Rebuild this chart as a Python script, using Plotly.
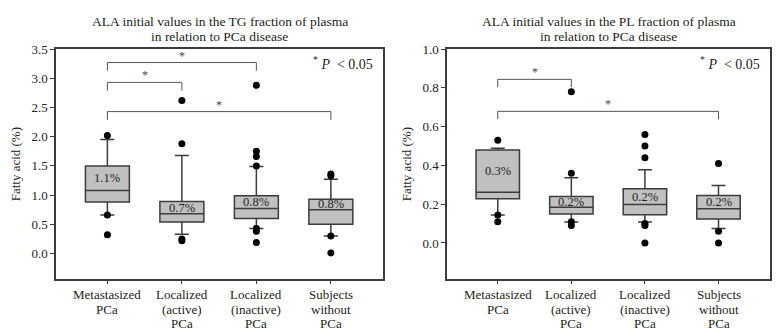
import plotly.graph_objects as go

# ---------------- data ----------------
category_lines = [["Metastasized", "PCa"], ["Localized", "(active)", "PCa"],
                  ["Localized", "(inactive)", "PCa"], ["Subjects", "without", "PCa"]]
categories = [" ".join(c) for c in category_lines]

# TG fraction
tg_q1 = [0.88, 0.54, 0.60, 0.50]
tg_median = [1.08, 0.68, 0.77, 0.75]
tg_q3 = [1.50, 0.89, 0.99, 0.93]
tg_lower = [0.66, 0.33, 0.43, 0.30]
tg_upper = [1.95, 1.68, 1.49, 1.27]
tg_outliers = [[2.02, 0.66, 0.32],
               [2.62, 1.88, 0.25, 0.22],
               [2.88, 1.75, 1.66, 1.50, 0.43, 0.38, 0.19],
               [1.36, 1.33, 0.30, 0.01]]
tg_labels = ["1.1%", "0.7%", "0.8%", "0.8%"]
tg_brackets = [(0, 2, 3.27), (0, 1, 2.93), (0, 3, 2.43)]

# PL fraction
pl_q1 = [0.228, 0.150, 0.145, 0.124]
pl_median = [0.262, 0.184, 0.198, 0.177]
pl_q3 = [0.480, 0.240, 0.280, 0.245]
pl_lower = [0.144, 0.108, 0.108, 0.074]
pl_upper = [0.488, 0.336, 0.378, 0.296]
pl_outliers = [[0.53, 0.144, 0.11],
               [0.78, 0.36, 0.11, 0.09],
               [0.56, 0.50, 0.44, 0.10, 0.09, 0.0],
               [0.41, 0.06, 0.0]]
pl_labels = ["0.3%", "0.2%", "0.2%", "0.2%"]
pl_brackets = [(0, 1, 0.844), (0, 3, 0.679)]

titles = [["ALA initial values in the TG fraction of plasma", "in relation to PCa disease"],
          ["ALA initial values in the PL fraction of plasma", "in relation to PCa disease"]]

# ---------------- style ----------------
FONT = "Liberation Serif"
TXT = "#231f20"
LINE = "#3c3c3c"
FILL = "#c0c0c0"
W, H = 778, 336
NB = "\u00a0"

fig = go.Figure()
annotations = []

panels = [
    dict(q1=tg_q1, med=tg_median, q3=tg_q3, lo=tg_lower, hi=tg_upper, out=tg_outliers,
         labels=tg_labels, brackets=tg_brackets, drop=0.14, xa="x", ya="y",
         yrange=[-0.44, 3.5], dtick=0.5, dom=[56 / W, 383 / W], title=titles[0]),
    dict(q1=pl_q1, med=pl_median, q3=pl_q3, lo=pl_lower, hi=pl_upper, out=pl_outliers,
         labels=pl_labels, brackets=pl_brackets, drop=0.04, xa="x2", ya="y2",
         yrange=[-0.187, 1.0], dtick=0.2, dom=[447 / W, 770 / W], title=titles[1]),
]

ydom = [1 - 278 / H, 1 - 43 / H]

for k, p in enumerate(panels):
    # boxes
    fig.add_trace(go.Box(
        x=categories, q1=p["q1"], median=p["med"], q3=p["q3"],
        lowerfence=p["lo"], upperfence=p["hi"], boxpoints=False,
        width=0.59, whiskerwidth=0.32, fillcolor=FILL,
        line=dict(color=LINE, width=1.5), xaxis=p["xa"], yaxis=p["ya"],
        showlegend=False, hoverinfo="skip"))
    # outliers
    ox, oy = [], []
    for c, vals in zip(categories, p["out"]):
        ox += [c] * len(vals)
        oy += vals
    fig.add_trace(go.Scatter(x=ox, y=oy, mode="markers",
                             marker=dict(color="black", size=7),
                             xaxis=p["xa"], yaxis=p["ya"], showlegend=False))
    # significance brackets
    for (i, j, h) in p["brackets"]:
        fig.add_trace(go.Scatter(
            x=[categories[i], categories[i], categories[j], categories[j]],
            y=[h - p["drop"], h, h, h - p["drop"]], mode="lines",
            line=dict(color="#555555", width=1), xaxis=p["xa"], yaxis=p["ya"],
            showlegend=False, hoverinfo="skip"))
        annotations.append(dict(x=(i + j) / 2, y=h, xref=p["xa"], yref=p["ya"],
                                text="*", showarrow=False, yanchor="middle", yshift=7,
                                font=dict(family=FONT, size=12, color="#444444")))
    # mean labels
    for idx, (lab, m, q) in enumerate(zip(p["labels"], p["med"], p["q3"])):
        annotations.append(dict(x=idx, y=(m + q) / 2, xref=p["xa"], yref=p["ya"],
                                text=lab, showarrow=False,
                                font=dict(family=FONT, size=12.5, color=TXT)))
    # category labels (one text per line, tight spacing)
    for idx, lines in enumerate(category_lines):
        for li, t in enumerate(lines):
            annotations.append(dict(x=idx, y=1 - (294 + 14.5 * li) / H, xref=p["xa"],
                                    yref="paper", text=t, showarrow=False,
                                    yanchor="middle",
                                    font=dict(family=FONT, size=13, color=TXT)))
    # p-value note
    annotations.append(dict(x=p["dom"][1] - 8 / W, y=1 - 57 / H, xref="paper", yref="paper",
                            xanchor="right", yanchor="middle", showarrow=False,
                            text="<sup>*</sup>" + NB + "<i>P</i>" + NB * 2 + "<" + NB + "0.05",
                            font=dict(family=FONT, size=14, color=TXT)))
    # title (two lines)
    cx = (p["dom"][0] + p["dom"][1]) / 2
    for line, ypx in zip(p["title"], [15, 30]):
        annotations.append(dict(x=cx, y=1 - ypx / H, xref="paper", yref="paper",
                                xanchor="center", yanchor="middle", showarrow=False,
                                text=line, font=dict(family=FONT, size=13.5, color=TXT)))

axis_common = dict(showline=True, linecolor=LINE, linewidth=1.5, mirror=True,
                   showgrid=False, zeroline=False, ticks="outside",
                   tickcolor=LINE, tickfont=dict(family=FONT, size=13, color=TXT))

layout = dict(
    width=W, height=H, margin=dict(l=0, r=0, t=0, b=0),
    paper_bgcolor="white", plot_bgcolor="white",
    annotations=annotations, showlegend=False,
)
for k, p in enumerate(panels):
    sx = "" if k == 0 else "2"
    layout["xaxis" + sx] = dict(axis_common, domain=p["dom"], range=[-0.69, 3.7],
                                type="category", ticklen=3, anchor="y" + sx,
                                showticklabels=False,
                                categoryorder="array", categoryarray=categories)
    layout["yaxis" + sx] = dict(axis_common, domain=ydom, range=p["yrange"],
                                tick0=0, dtick=p["dtick"], tickformat=".1f",
                                ticklen=4, anchor="x" + sx,
                                title=dict(text="Fatty acid (%)", standoff=8,
                                           font=dict(family=FONT, size=13, color=TXT)))

fig.update_layout(**layout)
fig.write_html(
    "out.html",
    config={"displayModeBar": False},
    post_script=("document.documentElement.style.margin='0';"
                 "document.body.style.margin='0';document.body.style.padding='0';"
                 "var d=document.getElementById('{plot_id}');"
                 "d.style.position='absolute';d.style.top='0px';d.style.left='0px';"),
)
